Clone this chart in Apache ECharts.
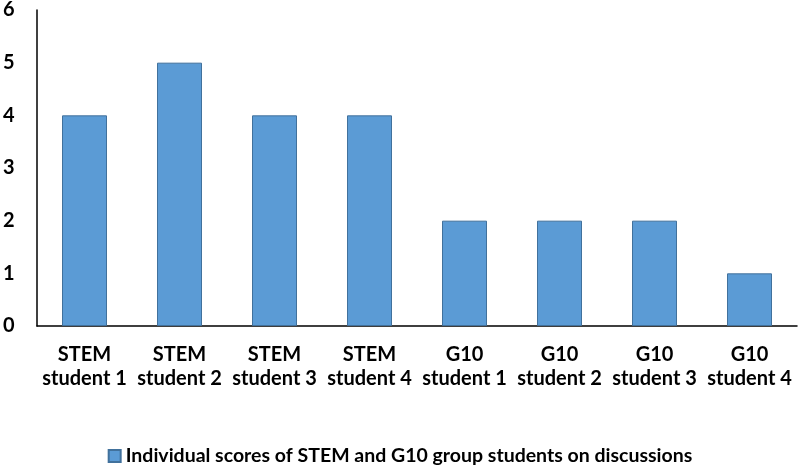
<!DOCTYPE html>
<html lang="en">
<head>
  <meta charset="UTF-8">
  <title>scores</title>
  <style>
    html, body { margin: 0; padding: 0; background: #fff; }
    #main { width: 800px; height: 471px; }
  </style>
</head>
<body>
  <div id="main"></div>
  <script src="https://cdn.jsdelivr.net/npm/echarts@6/dist/echarts.min.js"></script>
  <script>
    var categories = ['STEM\nstudent 1', 'STEM\nstudent 2', 'STEM\nstudent 3', 'STEM\nstudent 4',
      'G10\nstudent 1', 'G10\nstudent 2', 'G10\nstudent 3', 'G10\nstudent 4']
    var scores = [4, 5, 4, 4, 2, 2, 2, 1]
    var seriesName = 'Individual scores of STEM and G10 group students on discussions'

    var font = 'Lato, "Open Sans", sans-serif'
    var chart = echarts.init(document.getElementById('main'))
    chart.setOption({
      animation: false,
      textStyle: { fontFamily: font },
      grid: { left: 34, right: 3, top: 10, bottom: 145 },
      legend: {
        bottom: 0,
        left: 'center',
        itemWidth: 12,
        itemHeight: 12,
        itemGap: 6,
        icon: 'rect',
        textStyle: { fontFamily: font, fontWeight: 'bold', fontSize: 19.5, color: '#000' },
        data: [seriesName]
      },
      xAxis: {
        type: 'category',
        data: categories,
        axisLine: { lineStyle: { color: '#000', width: 1.5 } },
        axisTick: { show: false },
        axisLabel: {
          interval: 0,
          margin: 17,
          fontFamily: font,
          fontWeight: 'bold',
          fontSize: 20,
          lineHeight: 24,
          color: '#000'
        }
      },
      yAxis: {
        type: 'value',
        min: 0,
        max: 6,
        interval: 1,
        splitLine: { show: false },
        axisLine: { show: true, lineStyle: { color: '#000', width: 1.5 } },
        axisTick: { show: false },
        axisLabel: {
          align: 'left',
          margin: 34,
          fontFamily: font,
          fontWeight: 'bold',
          fontSize: 20,
          color: '#000'
        }
      },
      series: [{
        name: seriesName,
        type: 'bar',
        data: scores,
        barWidth: 45,
        itemStyle: { color: '#5B9BD5', borderColor: '#41719C', borderWidth: 1 }
      }]
    })
  </script>
</body>
</html>
